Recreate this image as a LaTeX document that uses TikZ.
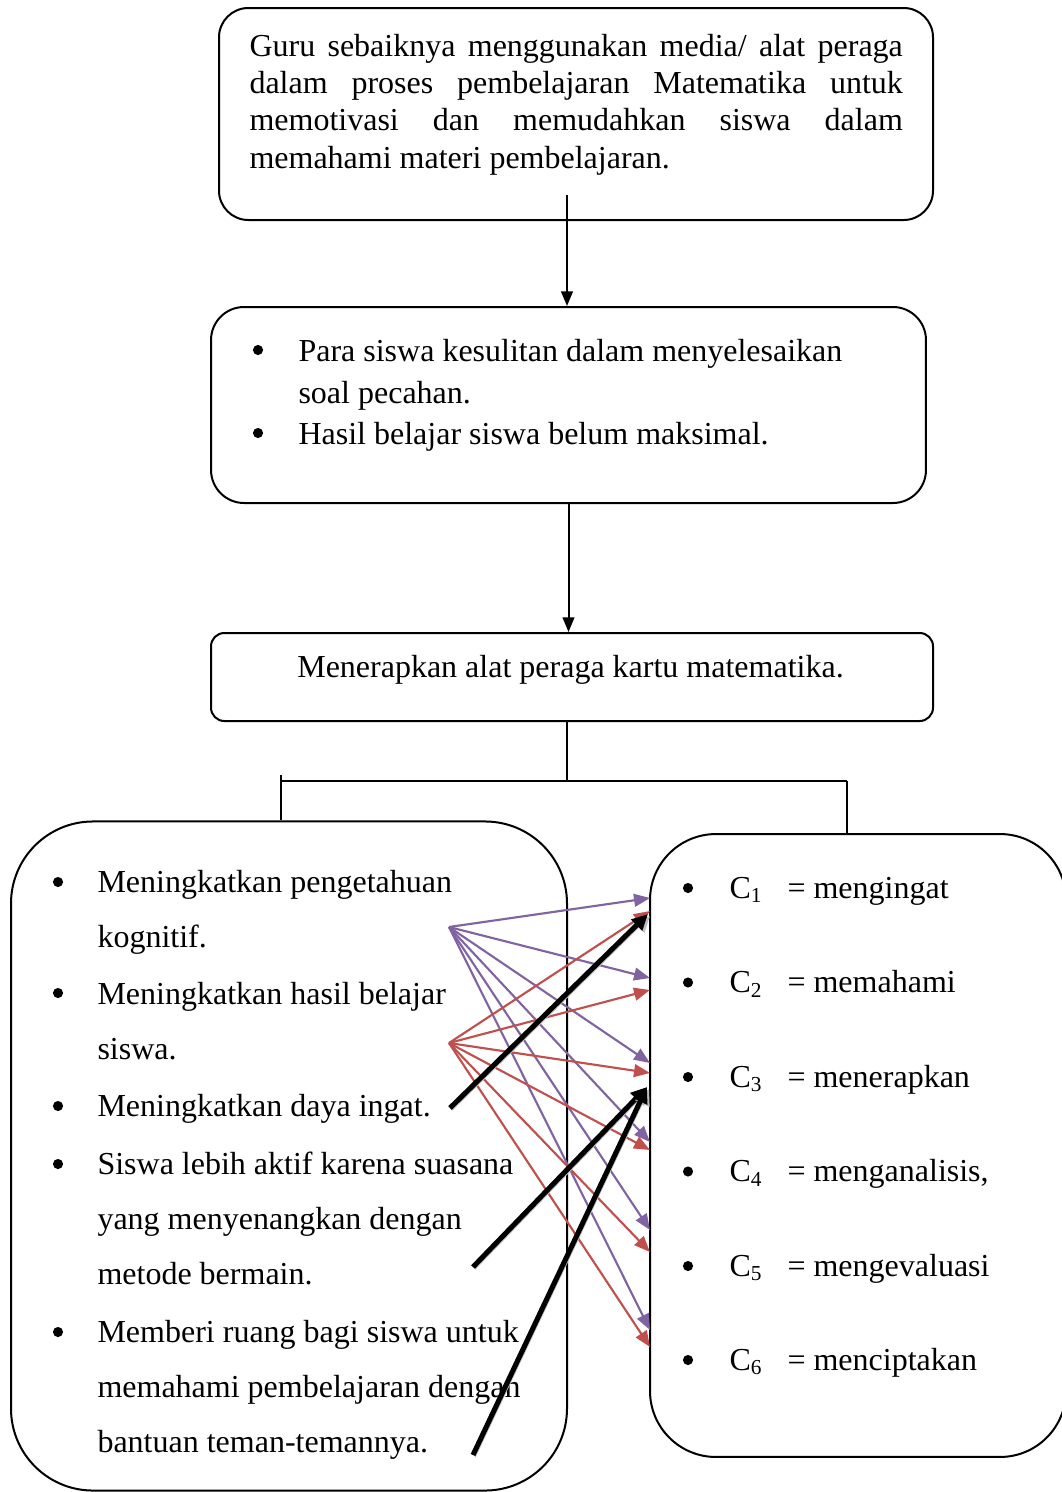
\documentclass[tikz,border=0pt]{standalone}
\usepackage{fontspec}
\setmainfont{Liberation Serif}
\usetikzlibrary{arrows.meta}
\definecolor{ungu}{HTML}{8064A2}
\definecolor{merah}{HTML}{C0504D}
\newcommand{\jline}[1]{\makebox[245pt][s]{#1}}
\begin{document}
\begin{tikzpicture}[x=0.375pt,y=-0.375pt,
  font=\fontsize{12}{13.9}\selectfont,
  kotak/.style={draw, line width=0.75pt, inner sep=0pt},
  teks/.style={anchor=base west, inner sep=0pt, align=left},
  titik/.style={circle, fill, inner sep=0pt, minimum size=3.8pt},
  panah/.style={line width=0.75pt, -{Triangle[length=5.5pt,width=4.4pt]}},
  garis/.style={line width=0.75pt},
  ungupanah/.style={ungu, line width=0.8pt, -{Triangle[length=6pt,width=4.8pt]}},
  merahpanah/.style={merah, line width=0.8pt, -{Triangle[length=6pt,width=4.8pt]}},
  tebal/.style={line width=1.9pt, -{Triangle[length=6pt,width=5.6pt]},
    preaction={draw=black!25, transform canvas={shift={(0.8pt,-0.8pt)}}}}]
\useasboundingbox (0,0) rectangle (1062,1492);
\node[kotak, rounded corners=11pt, minimum width=267.75pt, minimum height=79.5pt] (box1) at (576,114) {};
\node[teks] (t1) at (249,168) {\jline{Guru sebaiknya menggunakan media/ alat peraga}\\\jline{dalam proses pembelajaran Matematika untuk}\\\jline{memotivasi dan memudahkan siswa dalam}\\memahami materi pembelajaran.};
\node[kotak, rounded corners=12.4pt, minimum width=268.1pt, minimum height=73.5pt] (box2) at (568.5,405) {};
\node[titik] (b21) at (258,350) {};
\node[teks, font=\fontsize{12}{15.4}\selectfont] (t21) at (298,403) {Para siswa kesulitan dalam menyelesaikan\\soal pecahan.};
\node[titik] (b22) at (258,433) {};
\node[teks] (t22) at (298,444) {Hasil belajar siswa belum maksimal.};
\node[kotak, rounded corners=5pt, minimum width=270.75pt, minimum height=33pt] (box3) at (572,677) {};
\node[anchor=base, inner sep=0pt] (t3) at (570.5,677) {Menerapkan alat peraga kartu matematika.};
\node[kotak, rounded corners=30.75pt, minimum width=208.5pt, minimum height=250.9pt] (kiri) at (289,1156) {};
\foreach \y/\z/\isi [count=\i] in {892/947/{Meningkatkan pengetahuan\\kognitif.}, 1003/1059/{Meningkatkan hasil belajar\\siswa.}, 1116/1116/{Meningkatkan daya ingat.}, 1174/1284/{Siswa lebih aktif karena suasana\\yang menyenangkan dengan\\metode bermain.}, 1342/1452/{Memberi ruang bagi siswa untuk\\memahami pembelajaran dengan\\bantuan teman-temannya.}}{
  \node[titik] (bk\i) at (58,\y-10) {};
  \node[teks, font=\fontsize{12}{20.6}\selectfont] (k\i) at (97,\z) {\isi};
}
\node[kotak, rounded corners=24.75pt, minimum width=156pt, minimum height=233.6pt] (kanan) at (858,1145.5) {};
\foreach \y/\kata [count=\i] in {898/mengingat, 992.5/memahami, 1087/menerapkan, 1181.5/{menganalisis,}, 1276/mengevaluasi, 1370/menciptakan}{
  \node[titik] (bc\i) at (688,\y-10) {};
  \node[teks] (c\i) at (729,\y) {C\textsubscript{\i}};
  \node[teks] (v\i) at (787,\y) {= \kata};
}
\coordinate (a1) at (567,195);
\draw[panah] (a1) -- (a1 |- box2.north);
\draw[panah] (box2.south) -- (box2.south |- box3.north);
\coordinate (jn) at (567,781);
\coordinate (jl) at (281,775);
\coordinate (jr) at (847,781);
\draw[garis] (jn |- box3.south) -- (jn);
\draw[garis] (jl |- jn) -- (jr);
\draw[garis] (jl) -- (jl |- kiri.north);
\draw[garis] (jr) -- (jr |- kanan.north);
\coordinate (su) at (449,927);
\coordinate (sm) at (449,1043);
\foreach \y [count=\i] in {898,978,1063,1142,1230,1330}{
  \coordinate (pu\i) at (650,\y);
  \draw[ungupanah] (su) -- (pu\i);
}
\foreach \y [count=\i] in {911,990,1073,1150,1252,1347}{
  \coordinate (pm\i) at (650,\y);
  \draw[merahpanah] (sm) -- (pm\i);
}
\coordinate (h1) at (450,1108);
\coordinate (h2) at (473,1267);
\coordinate (h3) at (473,1455);
\coordinate (e1) at (648,914);
\coordinate (e2) at (647,1087);
\draw[tebal] (h1) -- (e1);
\draw[tebal] (h2) -- (e2);
\draw[tebal] (h3) -- (e2);
\end{tikzpicture}
\end{document}
